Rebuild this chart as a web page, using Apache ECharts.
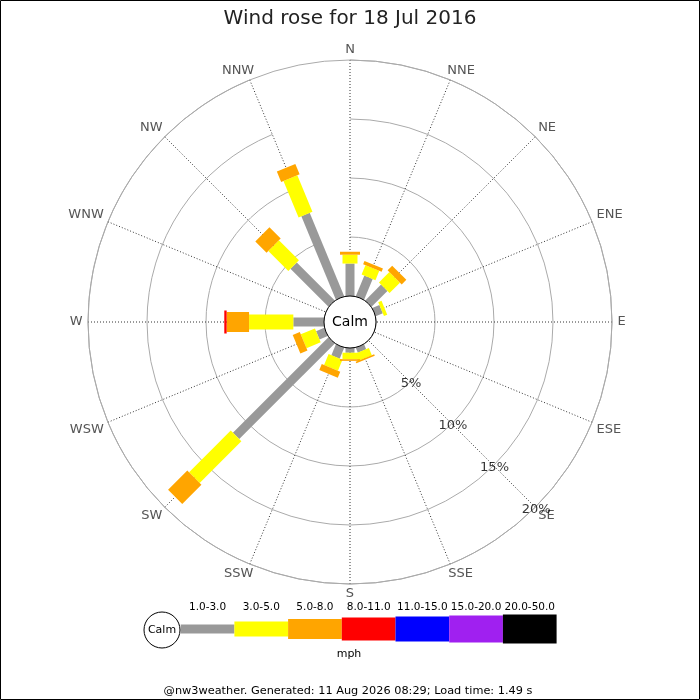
<!DOCTYPE html>
<html>
<head>
<meta charset="utf-8">
<script src="https://cdn.jsdelivr.net/npm/echarts@6/dist/echarts.min.js"></script>
<style>
  html, body { margin: 0; padding: 0; background: #fff; }
  #chart { width: 700px; height: 700px; }
</style>
</head>
<body>
<div id="chart"></div>
<script>
var directions = ['N', 'NNE', 'NE', 'ENE', 'E', 'ESE', 'SE', 'SSE', 'S', 'SSW', 'SW', 'WSW', 'W', 'WNW', 'NW', 'NNW'];
var speedBins = ['1.0-3.0', '3.0-5.0', '5.0-8.0', '8.0-11.0', '11.0-15.0', '15.0-20.0', '20.0-50.0'];
// percent of time per direction, one array per speed bin (mph)
var pct1to3 = [2.75, 1.9, 1.9, 0.65, 0, 0, 0, 0.45, 0.4, 1.0, 11.45, 0.75, 2.6, 0, 4.55, 7.65];
var pct3to5 = [0.75, 0.85, 1.25, 0.3, 0, 0, 0, 0.65, 0.55, 1.0, 5.0, 1.3, 3.75, 0, 2.4, 3.35];
var pct5to8 = [0.25, 0.3, 0.55, 0, 0, 0, 0, 0.14, 0.14, 0.55, 2.3, 0.65, 1.9, 0, 1.35, 0.95];
var pct8to11 = [0, 0, 0, 0, 0, 0, 0, 0, 0, 0, 0, 0, 0.2, 0, 0, 0];
var pct11to15 = [0, 0, 0, 0, 0, 0, 0, 0, 0, 0, 0, 0, 0, 0, 0, 0];
var pct15to20 = [0, 0, 0, 0, 0, 0, 0, 0, 0, 0, 0, 0, 0, 0, 0, 0];
var pct20to50 = [0, 0, 0, 0, 0, 0, 0, 0, 0, 0, 0, 0, 0, 0, 0, 0];
var ringValues = [5, 10, 15, 20];
var ringLabels = ['5%', '10%', '15%', '20%'];

var binColors = ['#999999', '#ffff00', '#ffa500', '#ff0000', '#0000ff', '#a020f0', '#000000'];
var binWidths = [9, 15, 20, 23, 25, 27, 29];

var chart = echarts.init(document.getElementById('chart'));

// stack the bins outwards from the calm circle
var allBins = [pct1to3, pct3to5, pct5to8, pct8to11, pct11to15, pct15to20, pct20to50];
var base = directions.map(function () { return 0; });
var series = allBins.map(function (vals, b) {
    var data = [];
    for (var i = 0; i < directions.length; i++) {
        data.push([directions[i], base[i], base[i] + vals[i]]);
        base[i] += vals[i];
    }
    return {
        type: 'custom',
        name: speedBins[b],
        coordinateSystem: 'polar',
        encode: { angle: 0, radius: [1, 2] },
        silent: true,
        z: 5 + b,
        data: data,
        renderItem: function (params, api) {
            var dir = api.value(0);
            var r0 = api.value(1), r1 = api.value(2);
            if (!(r1 > r0)) return;
            var cs = params.coordSys;
            var a = api.coord([r0, dir]);
            var c = api.coord([r1, dir]);
            var ux = a[0] - cs.cx, uy = a[1] - cs.cy;
            var len = Math.sqrt(ux * ux + uy * uy);
            ux /= len; uy /= len;
            var hw = binWidths[b] / 2;
            var px = -uy * hw, py = ux * hw;
            return {
                type: 'polygon',
                shape: { points: [[a[0] + px, a[1] + py], [c[0] + px, c[1] + py], [c[0] - px, c[1] - py], [a[0] - px, a[1] - py]] },
                style: { fill: binColors[b] }
            };
        }
    };
});

// direction labels: text box set just outside the outer ring
var measureCtx = document.createElement('canvas').getContext('2d');
measureCtx.font = '13px "DejaVu Sans"';
function sgn(v) { return v > 1e-6 ? 1 : (v < -1e-6 ? -1 : 0); }
series.push({
    type: 'custom',
    coordinateSystem: 'polar',
    encode: { angle: 0 },
    silent: true,
    z: 20,
    data: directions.map(function (d) { return [d]; }),
    renderItem: function (params, api) {
        var cs = params.coordSys;
        var p = api.coord([20, api.value(0)]);
        var ux = p[0] - cs.cx, uy = p[1] - cs.cy;
        var len = Math.sqrt(ux * ux + uy * uy);
        ux /= len; uy /= len;
        var txt = directions[params.dataIndex];
        var w = measureCtx.measureText(txt).width;
        var ox = sgn(ux) * 5.5 + ux * w / 2;
        var oy = sgn(uy) * 5.5 + uy * 4.5;
        return {
            type: 'text',
            x: p[0] + ox,
            y: p[1] + oy,
            style: { text: txt, fill: '#555', fontSize: 13, fontFamily: 'DejaVu Sans', align: 'center', verticalAlign: 'middle' }
        };
    }
});

series.push({
    type: 'scatter',
    coordinateSystem: 'polar',
    silent: true,
    symbolSize: 1,
    itemStyle: { color: 'transparent' },
    z: 20,
    data: ringValues.map(function (v) { return [v, 'SE']; }),
    label: {
        show: true,
        position: 'inside',
        offset: [1, 2],
        color: '#000',
        fontSize: 13,
        formatter: function (p) { return ringLabels[p.dataIndex]; }
    }
});

// legend drawn by hand: calm circle + bar strip
var legendX = 180.7, legendY = 629, segW = 53.7;
var graphics = [
    { type: 'rect', shape: { x: 0.5, y: 0.5, width: 699, height: 699 }, style: { fill: 'none', stroke: '#000', lineWidth: 1 }, z: 100 },
    { type: 'circle', shape: { cx: 350, cy: 322, r: 26 }, style: { fill: '#fff', stroke: '#000', lineWidth: 1 }, z: 50 },
    { type: 'text', x: 350, y: 322, style: { text: 'Calm', fontSize: 14, fill: '#000', align: 'center', verticalAlign: 'middle', fontFamily: 'DejaVu Sans' }, z: 51 },
    { type: 'circle', shape: { cx: 162, cy: 630, r: 18 }, style: { fill: '#fff', stroke: '#000', lineWidth: 1 }, z: 50 },
    { type: 'text', x: 162, y: 630, style: { text: 'Calm', fontSize: 11, fill: '#000', align: 'center', verticalAlign: 'middle', fontFamily: 'DejaVu Sans' }, z: 51 },
    { type: 'text', x: 349, y: 654, style: { text: 'mph', fontSize: 11, fill: '#000', align: 'center', verticalAlign: 'middle', fontFamily: 'DejaVu Sans' }, z: 51 },
    { type: 'text', x: 348, y: 691, style: { text: '@nw3weather. Generated: 11 Aug 2026 08:29; Load time: 1.49 s', fontSize: 11.3, fill: '#000', align: 'center', verticalAlign: 'middle', fontFamily: 'DejaVu Sans' }, z: 51 }
];
speedBins.forEach(function (lbl, i) {
    graphics.push({
        type: 'rect',
        shape: { x: legendX + i * segW, y: legendY - binWidths[i] / 2, width: segW, height: binWidths[i] },
        style: { fill: binColors[i] },
        z: 40
    });
    graphics.push({
        type: 'text',
        x: legendX + i * segW + segW / 2, y: 607,
        style: { text: lbl, fontSize: 10.5, fill: '#000', align: 'center', verticalAlign: 'middle', fontFamily: 'DejaVu Sans' },
        z: 41
    });
});

var option = {
    animation: false,
    textStyle: { fontFamily: 'DejaVu Sans' },
    title: {
        text: 'Wind rose for 18 Jul 2016',
        left: 'center',
        top: 4,
        textStyle: { fontSize: 20, fontWeight: 'normal', color: '#222' }
    },
    polar: { center: [350, 322], radius: [26, 262] },
    angleAxis: {
        type: 'category',
        data: directions,
        boundaryGap: false,
        startAngle: 90,
        clockwise: true,
        axisLine: { show: true, lineStyle: { color: '#aaa', width: 1 } },
        axisTick: { show: false },
        axisLabel: { show: false },
        splitLine: { show: true, lineStyle: { color: '#333', width: 1, type: [1, 2] } }
    },
    radiusAxis: {
        type: 'value',
        min: 0,
        max: 20,
        interval: 5,
        axisLine: { show: false },
        axisTick: { show: false },
        axisLabel: { show: false },
        splitLine: { show: true, lineStyle: { color: '#aaa', width: 1 } }
    },
    series: series,
    graphic: graphics
};
chart.setOption(option);
</script>
</body>
</html>
